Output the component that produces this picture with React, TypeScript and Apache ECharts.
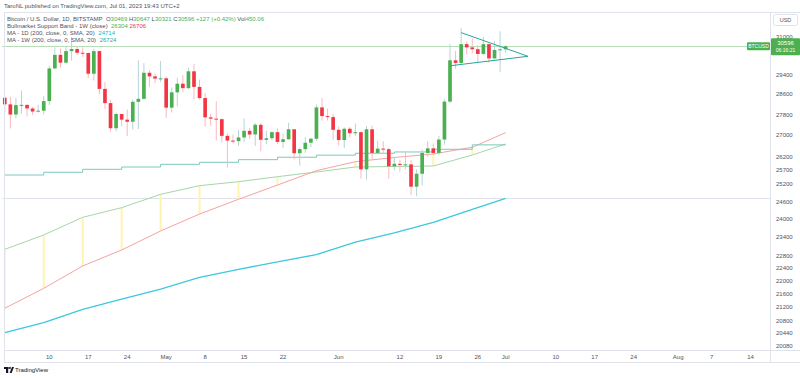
import React, { useEffect, useRef } from 'react';
import * as echarts from 'echarts';

// ---------- axis domain ----------
const firstDay = '2023-04-02';
const axisDayCount = 138; // Apr 2 .. Aug 17
const categories: string[] = [];
{
  const d0 = Date.parse(firstDay + 'T00:00:00Z');
  for (let i = 0; i < axisDayCount; i++) {
    categories.push(new Date(d0 + i * 86400000).toISOString().slice(0, 10));
  }
}

// x tick labels
const xTickDates = ['2023-04-10', '2023-04-17', '2023-04-24', '2023-05-01', '2023-05-08', '2023-05-15', '2023-05-22', '2023-06-01', '2023-06-12', '2023-06-19', '2023-06-26', '2023-07-01', '2023-07-10', '2023-07-17', '2023-07-24', '2023-08-01', '2023-08-07', '2023-08-14'];
const xTickTexts = ['10', '17', '24', 'May', '8', '15', '22', 'Jun', '12', '19', '26', 'Jul', '10', '17', '24', 'Aug', '7', '14'];

// y tick labels (log price scale)
const yTickValues = [31000, 29400, 28600, 27800, 27000, 26200, 25700, 25200, 24600, 24000, 23400, 22800, 22400, 22000, 21600, 21200, 20800, 20440, 20080];
const yMin = 19970;
const yMax = 32152;

// ---------- daily candles (Apr 2 .. Jul 1 2023) ----------
const candleOpen = [
  28462, 28200, 27800, 28170, 28180, 28040, 27920, 27950, 28330, 29660,
  30230, 29900, 30390, 30480, 30320, 30310, 29440, 30390, 28820, 28250,
  27270, 27820, 27600, 27520, 28300, 28420, 29480, 29330, 29240, 29250,
  28070, 28680, 29030, 28850, 29540, 28900, 28450, 27690, 27640, 27620,
  26980, 26800, 26780, 26920, 27170, 27030, 27400, 26830, 26890, 27120,
  26750, 26850, 27230, 26330, 26480, 26720, 26870, 28080, 27740, 27700,
  27210, 26820, 27250, 27080, 27120, 25740, 27230, 26340, 26500, 26480,
  25850, 25940, 25900, 25920, 25120, 25580, 26340, 26510, 26340, 26840,
  28310, 30000, 29890, 30690, 30550, 30470, 30270, 30690, 30080, 30440,
  30469,
];
const candleHigh = [
  28530, 28500, 28450, 28750, 28190, 28100, 28180, 28530, 29770, 30550,
  30500, 30600, 31000, 30600, 30550, 30330, 30490, 30420, 29100, 28370,
  27880, 27820, 28000, 28390, 30000, 29880, 29590, 29450, 29970, 29320,
  28880, 29270, 29380, 29700, 29840, 29200, 28650, 27830, 28330, 27640,
  27070, 27030, 27200, 27650, 27280, 27470, 27480, 27170, 27150, 27270,
  27060, 27480, 27230, 26540, 26930, 26900, 28200, 28450, 28040, 27830,
  27340, 27300, 27320, 27450, 27140, 27360, 27370, 26790, 26780, 26530,
  26200, 26090, 26410, 26080, 25740, 26470, 26780, 26690, 26980, 28400,
  30700, 30400, 31380, 30800, 30950, 30650, 31000, 30710, 30830, 31250,
  30647,
];
const candleLow = [
  27870, 27260, 27650, 27830, 27720, 27780, 27880, 27800, 28170, 29630,
  29700, 29870, 29990, 30230, 30140, 29270, 29160, 28600, 28020, 27140,
  27150, 27350, 26970, 27220, 27240, 28380, 28900, 29050, 29090, 27670,
  27880, 28120, 28680, 28800, 28400, 28390, 27330, 27360, 26800, 26730,
  25800, 26700, 26600, 26740, 26870, 26600, 26400, 26660, 26810, 26660,
  26530, 26830, 26100, 25880, 26340, 26560, 26790, 27560, 27570, 26840,
  26610, 26520, 26920, 26980, 25400, 25380, 26120, 26320, 26290, 25400,
  25700, 25650, 25740, 24820, 24790, 25170, 26200, 26280, 26270, 26650,
  28260, 29650, 29830, 30250, 30300, 29920, 30230, 29900, 30040, 29500,
  30321,
];
const candleClose = [
  28200, 27800, 28170, 28180, 28040, 27920, 27950, 28330, 29660, 30230,
  29900, 30390, 30480, 30320, 30310, 29440, 30390, 28820, 28250, 27270,
  27820, 27600, 27520, 28300, 28420, 29480, 29330, 29240, 29250, 28070,
  28680, 29030, 28850, 29540, 28900, 28450, 27690, 27640, 27620, 26980,
  26800, 26780, 26920, 27170, 27030, 27400, 26830, 26890, 27120, 26750,
  26850, 27230, 26330, 26480, 26720, 26870, 28080, 27740, 27700, 27210,
  26820, 27250, 27080, 27120, 25740, 27230, 26340, 26500, 26480, 25850,
  25940, 25900, 25920, 25120, 25580, 26340, 26510, 26340, 26840, 28310,
  30000, 29890, 30690, 30550, 30470, 30270, 30690, 30080, 30440, 30469,
  30596,
];

// ---------- indicators, read at weekly (Sunday) points + last bar ----------
const weeklyDates = ['2023-04-02', '2023-04-09', '2023-04-16', '2023-04-23', '2023-04-30', '2023-05-07', '2023-05-14', '2023-05-21', '2023-05-28', '2023-06-04', '2023-06-11', '2023-06-18', '2023-06-25', '2023-07-01'];
const bmsbGreen = [23004, 23473, 24062, 24390, 24853, 25156, 25297, 25475, 25644, 25824, 25842, 25861, 26263, 26673];
const bmsbRed = [21177, 21777, 22472, 22983, 23604, 24173, 24679, 25178, 25693, 26018, 26172, 26301, 26550, 27101];
const ma1d = [20460, 20750, 21146, 21452, 21756, 22118, 22367, 22600, 22836, 23241, 23539, 23892, 24332, 24714];
const ma1w = [25535, 25633, 25741, 25824, 25922, 25996, 26092, 26181, 26258, 26328, 26376, 26475, 26640, 26640];
// band fill stripes are drawn at completed weekly points only
const bandFillCount = 13;

// triangle drawing
const triUpperDates = ['2023-06-23', '2023-07-05'];
const triUpperValues = [31190, 30170];
const triLowerDates = ['2023-06-21', '2023-07-05'];
const triLowerValues = [29770, 30170];

const lastClose = 30596;
const ma1dLast = 24714;

const GREEN = '#4CAF50';
const RED = '#F23645';
const GREEN_WICK = '#B9D2DA';
const RED_WICK = '#F9B9C0';
const BORDER = '#E0E3EB';
const TXT = '#50535E';
const FONT = '"Liberation Sans", Arial, sans-serif';

function buildOption() {
  const candleData = candleOpen.map((o, i) => [categories[i], o, candleHigh[i], candleLow[i], candleClose[i]]);
  return {
    animation: false,
    backgroundColor: '#ffffff',
    textStyle: { fontFamily: FONT },
    grid: { left: 2, right: 30, top: 11, bottom: 28, containLabel: false, outerBoundsMode: 'none' },
    xAxis: {
      type: 'category',
      data: categories,
      boundaryGap: true,
      axisLine: { show: false },
      axisTick: { show: false },
      splitLine: { show: false },
      axisLabel: {
        interval: (_idx: number, val: string) => xTickDates.indexOf(val) >= 0,
        formatter: (val: string) => xTickTexts[xTickDates.indexOf(val)] ?? '',
        fontSize: 6,
        color: TXT,
        margin: 4,
        fontFamily: FONT,
        hideOverlap: false,
      },
    },
    yAxis: {
      type: 'log',
      logBase: 10,
      min: yMin,
      max: yMax,
      position: 'right',
      axisLine: { show: false },
      axisTick: { show: false },
      axisLabel: { show: false },
      splitLine: { show: false },
    },
    series: [
      {
        type: 'custom',
        name: 'band fill',
        data: weeklyDates.slice(0, bandFillCount).map((d, i) => [d, bmsbRed[i], bmsbGreen[i]]),
        encode: { x: 0, y: [1, 2] },
        z: 1,
        renderItem: (_p: any, api: any) => {
          const x = api.value(0);
          const a = api.coord([x, api.value(1)]);
          const b = api.coord([x, api.value(2)]);
          return {
            type: 'rect',
            shape: { x: a[0] - 1, y: Math.min(a[1], b[1]), width: 2, height: Math.abs(a[1] - b[1]) },
            style: { fill: '#FFF3B0' },
          };
        },
      },
      {
        type: 'line',
        name: 'BMSB green',
        data: weeklyDates.map((d, i) => [d, bmsbGreen[i]]),
        symbol: 'none',
        lineStyle: { color: '#A5D6A7', width: 1 },
        z: 2,
      },
      {
        type: 'line',
        name: 'BMSB red',
        data: weeklyDates.map((d, i) => [d, bmsbRed[i]]),
        symbol: 'none',
        lineStyle: { color: '#F7A1A1', width: 1 },
        z: 2,
      },
      {
        type: 'line',
        name: 'MA 1W',
        data: weeklyDates.map((d, i) => [d, ma1w[i]]),
        step: 'end',
        symbol: 'none',
        lineStyle: { color: '#7CC8BC', width: 1 },
        z: 2,
        markLine: {
          silent: true,
          symbol: 'none',
          z: 1,
          animation: false,
          label: { show: false },
          data: [
            { yAxis: lastClose, lineStyle: { color: '#B7DDB9', width: 1, type: 'solid' } },
            { yAxis: ma1dLast, lineStyle: { color: BORDER, width: 1, type: 'solid' } },
          ],
        },
      },
      {
        type: 'line',
        name: 'MA 1D',
        data: weeklyDates.map((d, i) => [d, ma1d[i]]),
        symbol: 'none',
        lineStyle: { color: '#3CC8DD', width: 1.3 },
        z: 2,
        markLine: {
          silent: true,
          symbol: 'none',
          z: 1,
          animation: false,
          lineStyle: { color: 'rgba(0,0,0,0)', width: 0 },
          label: {
            show: true,
            position: 'end',
            distance: 6,
            fontSize: 6,
            color: TXT,
            fontFamily: FONT,
            formatter: (p: any) => String(p.value),
          },
          data: yTickValues.map((v) => ({ yAxis: v })),
        },
      },
      {
        type: 'custom',
        name: 'BTCUSD',
        data: candleData,
        encode: { x: 0, y: [1, 2, 3, 4] },
        z: 3,
        renderItem: (_p: any, api: any) => {
          const x = api.value(0);
          const o = api.value(1);
          const h = api.value(2);
          const l = api.value(3);
          const c = api.value(4);
          const pO = api.coord([x, o]);
          const pC = api.coord([x, c]);
          const pH = api.coord([x, h]);
          const pL = api.coord([x, l]);
          const band = api.coord([x + 1, o])[0] - pO[0];
          const bw = band * 0.66;
          const up = c >= o;
          const top = Math.min(pO[1], pC[1]);
          const hgt = Math.max(Math.abs(pO[1] - pC[1]), 1);
          return {
            type: 'group',
            children: [
              { type: 'line', shape: { x1: pO[0], y1: pH[1], x2: pO[0], y2: pL[1] }, style: { stroke: up ? GREEN_WICK : RED_WICK, lineWidth: 1 } },
              { type: 'rect', shape: { x: pO[0] - bw / 2, y: top, width: bw, height: hgt }, style: { fill: up ? GREEN : RED } },
            ],
          };
        },
      },
      {
        type: 'line',
        name: 'triangle upper',
        data: triUpperDates.map((d, i) => [d, triUpperValues[i]]),
        symbol: 'none',
        lineStyle: { color: '#26A69A', width: 1 },
        z: 4,
      },
      {
        type: 'line',
        name: 'triangle lower',
        data: triLowerDates.map((d, i) => [d, triLowerValues[i]]),
        symbol: 'none',
        lineStyle: { color: '#26A69A', width: 1 },
        z: 4,
      },
    ],
  };
}

function buildGraphics(yP: number) {
  const t = (x: number, y: number, text: string, opts: any = {}) => ({
    type: 'text',
    x,
    y,
    z: 100,
    style: { text, fontSize: 6, fontFamily: FONT, fill: TXT, align: 'left', verticalAlign: 'middle', ...opts },
  });
  const ln = (x1: number, y1: number, x2: number, y2: number, stroke = BORDER) => ({
    type: 'line',
    z: 90,
    shape: { x1, y1, x2, y2 },
    style: { stroke, lineWidth: 1 },
  });
  const rich = {
    t: { fill: TXT, fontSize: 6, fontFamily: FONT },
    k: { fill: TXT, fontSize: 6, fontFamily: FONT },
    v: { fill: GREEN, fontSize: 6, fontFamily: FONT },
    g: { fill: GREEN, fontSize: 6, fontFamily: FONT },
    r: { fill: RED, fontSize: 6, fontFamily: FONT },
    c: { fill: '#00BCD4', fontSize: 6, fontFamily: FONT },
    m: { fill: '#26A69A', fontSize: 6, fontFamily: FONT },
  };
  return [
    ln(4, 12.5, 800, 12.5),
    ln(4.5, 12, 4.5, 363),
    ln(770.5, 12, 770.5, 363),
    ln(4, 350.5, 800, 350.5),
    ln(4, 362.5, 800, 362.5),
    t(4, 6, 'TaroNL published on TradingView.com, Jul 01, 2023 19:43 UTC+2'),
    t(7, 19, '{t|Bitcoin / U.S. Dollar, 1D, BITSTAMP}  {k|O}{v|30469} {k|H}{v|30647} {k|L}{v|30321} {k|C}{v|30596} {v|+127 (+0.42%)} {k|Vol}{v|450.06}', { rich }),
    t(7, 26, '{t|Bullmarket Support Band - 1W (close)}  {g|26304} {r|26706}', { rich }),
    t(7, 33, '{t|MA - 1D (200, close, 0, SMA, 20)}  {c|24714}', { rich }),
    t(7, 40, '{t|MA - 1W (200, close, 0, SMA, 20)}  {m|26724}', { rich }),
    // USD box
    { type: 'rect', z: 95, shape: { x: 773.5, y: 14.5, width: 24, height: 11, r: 2 }, style: { fill: '#fff', stroke: BORDER, lineWidth: 1 } },
    t(785.5, 20, 'USD', { align: 'center', fontSize: 5.5 }),
    // symbol tag
    { type: 'rect', z: 95, shape: { x: 747, y: yP - 4, width: 23, height: 8, r: 1 }, style: { fill: GREEN } },
    t(758.5, yP, 'BTCUSD', { align: 'center', fontSize: 5, fill: '#fff' }),
    // price box
    { type: 'rect', z: 95, shape: { x: 771, y: yP - 8, width: 29, height: 17, r: 1 }, style: { fill: GREEN } },
    t(785.5, yP - 3, '30596', { align: 'center', fontSize: 6, fill: '#fff' }),
    t(785.5, yP + 4, '06:16:21', { align: 'center', fontSize: 5, fill: '#fff' }),
    // TradingView logo
    { type: 'rect', z: 95, shape: { x: 4, y: 367, width: 4.5, height: 2 }, style: { fill: '#131722' } },
    { type: 'rect', z: 95, shape: { x: 6, y: 367, width: 2.2, height: 6 }, style: { fill: '#131722' } },
    { type: 'circle', z: 95, shape: { cx: 9.8, cy: 368, r: 1 }, style: { fill: '#131722' } },
    { type: 'polygon', z: 95, shape: { points: [[9.6, 373], [12, 367], [14, 367], [11.6, 373]] }, style: { fill: '#131722' } },
    t(15, 370, 'TradingView', { fill: '#131722', fontSize: 6 }),
  ];
}

export default function App() {
  const ref = useRef<HTMLDivElement>(null);
  useEffect(() => {
    if (!ref.current) return;
    const chart = echarts.init(ref.current, undefined, { renderer: 'svg' });
    chart.setOption(buildOption() as any);
    const yP = chart.convertToPixel({ yAxisIndex: 0 } as any, lastClose) as unknown as number;
    chart.setOption({ graphic: buildGraphics(typeof yP === 'number' ? yP : 48) } as any);
    return () => chart.dispose();
  }, []);
  return (
    <div
      ref={ref}
      style={{ position: 'fixed', left: 0, top: 0, width: 800, height: 378, background: '#ffffff' }}
    />
  );
}
